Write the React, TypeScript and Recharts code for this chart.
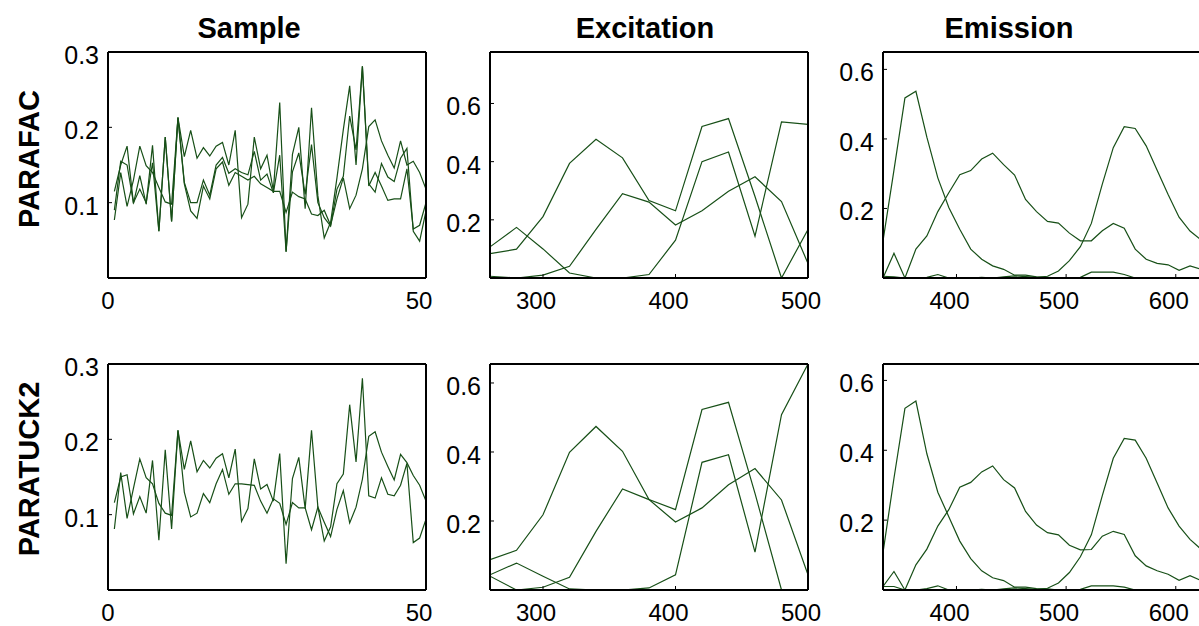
import React from 'react';
import { LineChart, Line, XAxis, YAxis } from 'recharts';

// x categories
const sampleNo = [1, 2, 3, 4, 5, 6, 7, 8, 9, 10, 11, 12, 13, 14, 15, 16, 17, 18, 19, 20, 21, 22, 23, 24, 25, 26, 27, 28, 29, 30, 31, 32, 33, 34, 35, 36, 37, 38, 39, 40, 41, 42, 43, 44, 45, 46, 47, 48, 49, 50];
const excitationNm = [260, 280, 300, 320, 340, 360, 380, 400, 420, 440, 460, 480, 500];
const emissionNm = [333, 343, 353, 363, 373, 383, 393, 403, 413, 423, 433, 443, 453, 463, 473, 483, 493, 503, 513, 523, 533, 543, 553, 563, 573, 583, 593, 603, 613, 623];

// PARAFAC loadings
const parafacSampleA = [0.115, 0.150, 0.175, 0.099, 0.136, 0.098, 0.176, 0.062, 0.187, 0.075, 0.213, 0.161, 0.196, 0.159, 0.173, 0.162, 0.175, 0.180, 0.150, 0.196, 0.080, 0.098, 0.187, 0.145, 0.163, 0.116, 0.233, 0.035, 0.164, 0.200, 0.092, 0.226, 0.109, 0.053, 0.074, 0.133, 0.197, 0.255, 0.150, 0.281, 0.125, 0.114, 0.152, 0.134, 0.128, 0.159, 0.172, 0.062, 0.049, 0.089];
const parafacSampleB = [0.090, 0.155, 0.150, 0.100, 0.118, 0.100, 0.153, 0.062, 0.187, 0.075, 0.213, 0.127, 0.100, 0.100, 0.130, 0.110, 0.150, 0.160, 0.139, 0.145, 0.140, 0.137, 0.168, 0.130, 0.138, 0.113, 0.163, 0.035, 0.141, 0.166, 0.111, 0.177, 0.100, 0.080, 0.069, 0.118, 0.135, 0.215, 0.170, 0.281, 0.122, 0.140, 0.122, 0.103, 0.105, 0.105, 0.145, 0.065, 0.070, 0.100];
const parafacSampleC = [0.077, 0.140, 0.095, 0.130, 0.175, 0.149, 0.140, 0.120, 0.101, 0.098, 0.213, 0.125, 0.089, 0.079, 0.122, 0.105, 0.145, 0.154, 0.123, 0.140, 0.135, 0.130, 0.135, 0.125, 0.120, 0.115, 0.115, 0.087, 0.114, 0.108, 0.105, 0.085, 0.083, 0.090, 0.070, 0.105, 0.133, 0.092, 0.110, 0.145, 0.201, 0.210, 0.182, 0.163, 0.146, 0.182, 0.150, 0.155, 0.140, 0.118];

const parafacEx1 = [0.084, 0.099, 0.211, 0.394, 0.477, 0.413, 0.266, 0.231, 0.521, 0.548, 0.28, 0.0, 0.167];
const parafacEx2 = [0.107, 0.174, 0.10, 0.017, 0.0, 0.0, 0.012, 0.130, 0.400, 0.433, 0.144, 0.537, 0.528];
const parafacEx3 = [0.006, 0.0, 0.01, 0.04, 0.167, 0.290, 0.261, 0.182, 0.231, 0.298, 0.348, 0.263, 0.05];

const parafacEm1 = [0.107, 0.31, 0.518, 0.537, 0.405, 0.288, 0.203, 0.140, 0.083, 0.054, 0.035, 0.025, 0.008, 0.008, 0.003, 0.002, 0, 0, 0.002, 0.017, 0.017, 0.017, 0.01, 0, 0, 0, 0, 0, 0, 0];
const parafacEm2 = [0, 0.071, 0, 0.083, 0.121, 0.191, 0.245, 0.297, 0.309, 0.342, 0.359, 0.326, 0.296, 0.226, 0.191, 0.163, 0.158, 0.129, 0.107, 0.107, 0.136, 0.157, 0.143, 0.083, 0.054, 0.042, 0.038, 0.022, 0.035, 0.025];
const parafacEm3 = [0.005, 0.003, 0, 0, 0.002, 0.01, 0, 0, 0, 0.002, 0, 0.003, 0.006, 0.004, 0.002, 0.005, 0.02, 0.05, 0.09, 0.157, 0.27, 0.375, 0.435, 0.43, 0.38, 0.31, 0.24, 0.175, 0.135, 0.11];

// PARATUCK2 loadings
const paratuckSampleA = [0.116, 0.150, 0.153, 0.101, 0.124, 0.102, 0.172, 0.066, 0.186, 0.081, 0.212, 0.160, 0.198, 0.157, 0.172, 0.162, 0.175, 0.181, 0.149, 0.187, 0.091, 0.108, 0.174, 0.134, 0.140, 0.118, 0.181, 0.035, 0.148, 0.176, 0.108, 0.212, 0.110, 0.065, 0.084, 0.141, 0.154, 0.246, 0.170, 0.281, 0.125, 0.122, 0.149, 0.127, 0.125, 0.139, 0.168, 0.063, 0.069, 0.094];
const paratuckSampleB = [0.081, 0.156, 0.095, 0.135, 0.174, 0.149, 0.141, 0.115, 0.102, 0.099, 0.212, 0.130, 0.097, 0.102, 0.128, 0.116, 0.141, 0.160, 0.127, 0.141, 0.141, 0.140, 0.139, 0.118, 0.102, 0.121, 0.115, 0.087, 0.116, 0.109, 0.109, 0.080, 0.110, 0.090, 0.071, 0.107, 0.132, 0.089, 0.110, 0.147, 0.204, 0.210, 0.183, 0.164, 0.146, 0.180, 0.169, 0.152, 0.139, 0.118];

const paratuckEx1 = [0.088, 0.115, 0.218, 0.399, 0.474, 0.402, 0.262, 0.233, 0.523, 0.544, 0.28, 0.0, 0.0];
const paratuckEx2 = [0.044, 0.078, 0.04, 0.003, 0.0, 0.0, 0.006, 0.044, 0.370, 0.392, 0.110, 0.508, 0.655];
const paratuckEx3 = [0.04, 0.0, 0.008, 0.037, 0.170, 0.293, 0.262, 0.197, 0.238, 0.305, 0.352, 0.261, 0.044];

const paratuckEm1 = [0.107, 0.32, 0.52, 0.541, 0.39, 0.28, 0.21, 0.14, 0.09, 0.055, 0.035, 0.027, 0.008, 0.008, 0.004, 0.003, 0, 0, 0.002, 0.012, 0.012, 0.012, 0.008, 0, 0, 0, 0, 0, 0, 0];
const paratuckEm2 = [0.01, 0.053, 0, 0.072, 0.117, 0.183, 0.23, 0.294, 0.308, 0.338, 0.355, 0.316, 0.292, 0.225, 0.186, 0.164, 0.158, 0.128, 0.115, 0.116, 0.154, 0.168, 0.159, 0.098, 0.069, 0.055, 0.045, 0.028, 0.041, 0.027];
const paratuckEm3 = [0.01, 0.01, 0, 0, 0.004, 0.012, 0, 0, 0, 0.002, 0, 0.003, 0.006, 0.004, 0.002, 0.005, 0.02, 0.05, 0.095, 0.158, 0.27, 0.377, 0.434, 0.429, 0.377, 0.306, 0.235, 0.183, 0.145, 0.117];

// tick labels
const sampleXTicks = [0, 50];
const sampleYTicks = [0.1, 0.2, 0.3];
const exXTicks = [300, 400, 500];
const emXTicks = [400, 500, 600];
const loadYTicks = [0.2, 0.4, 0.6];

const FONT = '"Liberation Sans", Arial, Helvetica, sans-serif';
const INK = '#174f17';

const table = (xs: number[], series: number[][]) =>
  xs.map((x, i) => {
    const row: Record<string, number> = { x };
    series.forEach((s, j) => { row['s' + j] = s[i]; });
    return row;
  });

// bottom tick label; multi-digit labels sit a little left of their tick, as in the original
function XTick(props: any) {
  const { x, y, payload } = props;
  const s = String(payload.value);
  return (
    <text x={x - (s.length > 1 ? 7 : 0)} y={y} dy="0.71em" textAnchor="middle"
      fill="#000" fontSize={24} fontFamily={FONT}>{s}</text>
  );
}

type PanelProps = {
  left: number; top: number; w: number; h: number;
  data: Record<string, number>[]; n: number;
  xDomain: [number, number]; yDomain: [number, number];
  xTicks: number[]; yTicks: number[];
};

const PAD_L = 60, PAD_R = 30, PAD_T = 20, PAD_B = 60;
const frame = { stroke: '#000', strokeWidth: 2 };

function Panel({ left, top, w, h, data, n, xDomain, yDomain, xTicks, yTicks }: PanelProps) {
  const keys = Array.from({ length: n }, (_, j) => 's' + j);
  return (
    <div style={{ position: 'absolute', left: left - PAD_L, top: top - PAD_T }}>
      <LineChart width={w + PAD_L + PAD_R} height={h + PAD_T + PAD_B} data={data}
        margin={{ top: PAD_T - 1, right: PAD_R - 1, bottom: 0, left: 0 }}>
        <XAxis xAxisId="b" dataKey="x" type="number" domain={xDomain} ticks={xTicks} interval={0}
          allowDataOverflow height={PAD_B} tickSize={-4} tickMargin={18}
          axisLine={frame} tickLine={{ stroke: '#000' }} tick={<XTick />} />
        <XAxis xAxisId="t" orientation="top" dataKey="x" type="number" domain={xDomain} ticks={xTicks} interval={0}
          allowDataOverflow height={1} tickSize={-4} tick={false}
          axisLine={frame} tickLine={{ stroke: '#000' }} />
        <YAxis yAxisId="l" type="number" domain={yDomain} ticks={yTicks} interval={0}
          allowDataOverflow width={PAD_L} tickSize={-4} tickMargin={13}
          axisLine={frame} tickLine={{ stroke: '#000' }}
          tick={{ fill: '#000', fontSize: 25, fontFamily: FONT, dy: 3 }} />
        <YAxis yAxisId="r" orientation="right" type="number" domain={yDomain} ticks={yTicks} interval={0}
          allowDataOverflow width={1} tickSize={-4} tick={false}
          axisLine={frame} tickLine={{ stroke: '#000' }} />
        {keys.map((k, j) => {
          // the last series is bound to the top/right axes (same domains as bottom/left)
          const last = j === keys.length - 1;
          return (
            <Line key={k} xAxisId={last ? 't' : 'b'} yAxisId={last ? 'r' : 'l'} type="linear" dataKey={k}
              stroke={INK} strokeWidth={1.2} dot={false} activeDot={false} isAnimationActive={false} />
          );
        })}
      </LineChart>
    </div>
  );
}

const ROW_TOP = [52, 364];
const COL_LEFT = [108, 490, 883];
const W = 318, H = 226;

export default function App() {
  const sample1 = table(sampleNo, [parafacSampleA, parafacSampleB, parafacSampleC]);
  const ex1 = table(excitationNm, [parafacEx1, parafacEx2, parafacEx3]);
  const em1 = table(emissionNm, [parafacEm1, parafacEm2, parafacEm3]);
  const sample2 = table(sampleNo, [paratuckSampleA, paratuckSampleB]);
  const ex2 = table(excitationNm, [paratuckEx1, paratuckEx2, paratuckEx3]);
  const em2 = table(emissionNm, [paratuckEm1, paratuckEm2, paratuckEm3]);

  const titleStyle = { fontFamily: FONT, fontSize: 29, fontWeight: 700, fill: '#000' } as const;

  return (
    <div style={{ position: 'absolute', left: 0, top: 0, width: 1199, height: 626, overflow: 'hidden', background: '#fff' }}>
      <Panel left={COL_LEFT[0]} top={ROW_TOP[0]} w={W} h={H} data={sample1} n={3}
        xDomain={[0, 50]} yDomain={[0, 0.3]} xTicks={sampleXTicks} yTicks={sampleYTicks} />
      <Panel left={COL_LEFT[1]} top={ROW_TOP[0]} w={W} h={H} data={ex1} n={3}
        xDomain={[260, 500]} yDomain={[0, 0.777]} xTicks={exXTicks} yTicks={loadYTicks} />
      <Panel left={COL_LEFT[2]} top={ROW_TOP[0]} w={W} h={H} data={em1} n={3}
        xDomain={[333, 623]} yDomain={[0, 0.65]} xTicks={emXTicks} yTicks={loadYTicks} />
      <Panel left={COL_LEFT[0]} top={ROW_TOP[1]} w={W} h={H} data={sample2} n={2}
        xDomain={[0, 50]} yDomain={[0, 0.3]} xTicks={sampleXTicks} yTicks={sampleYTicks} />
      <Panel left={COL_LEFT[1]} top={ROW_TOP[1]} w={W} h={H} data={ex2} n={3}
        xDomain={[260, 500]} yDomain={[0, 0.655]} xTicks={exXTicks} yTicks={loadYTicks} />
      <Panel left={COL_LEFT[2]} top={ROW_TOP[1]} w={W} h={H} data={em2} n={3}
        xDomain={[333, 623]} yDomain={[0, 0.647]} xTicks={emXTicks} yTicks={loadYTicks} />

      <svg width={1199} height={626} style={{ position: 'absolute', left: 0, top: 0, pointerEvents: 'none' }}>
        <text x={249} y={38} textAnchor="middle" style={titleStyle}>Sample</text>
        <text x={645} y={38} textAnchor="middle" style={titleStyle}>Excitation</text>
        <text x={1009} y={38} textAnchor="middle" style={titleStyle}>Emission</text>
        <text transform="translate(39, 159) rotate(-90)" textAnchor="middle" style={titleStyle}>PARAFAC</text>
        <text transform="translate(39, 469) rotate(-90)" textAnchor="middle" style={titleStyle}>PARATUCK2</text>
      </svg>
    </div>
  );
}
